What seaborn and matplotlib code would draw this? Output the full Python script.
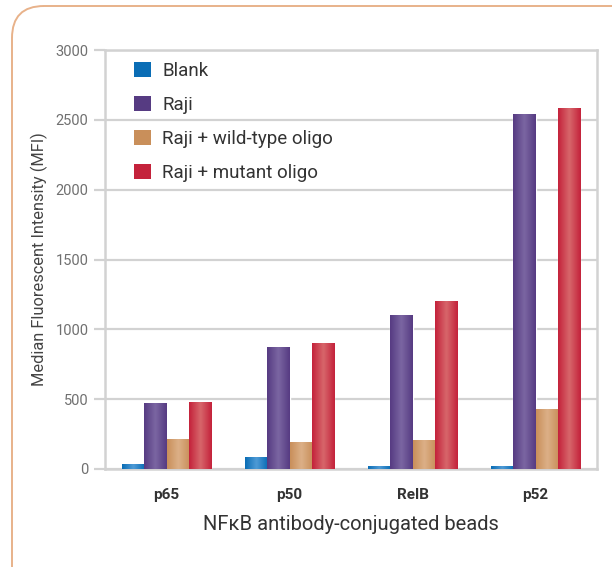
import numpy as np
import pandas as pd
import seaborn as sns
import matplotlib.pyplot as plt
from matplotlib.colors import LinearSegmentedColormap
from matplotlib.patches import FancyBboxPatch, Patch

# data
beads = ['p65', 'p50', 'RelB', 'p52']
samples = ['Blank', 'Raji', 'Raji + wild-type oligo', 'Raji + mutant oligo']
blank = [36, 86, 21, 21]
raji = [472, 873, 1102, 2541]
wild = [215, 193, 207, 429]
mutant = [480, 902, 1202, 2584]
yticks = [0, 500, 1000, 1500, 2000, 2500, 3000]

# dark edge / light highlight for the cylinder look
dark = ['#0a6db5', '#563b82', '#c98f5a', '#c4223b']
light = ['#4f9bd6', '#7b66a2', '#dcb088', '#d7676b']

df = pd.DataFrame({
    'bead': beads * 4,
    'sample': np.repeat(samples, 4),
    'mfi': blank + raji + wild + mutant,
})

sns.set_style('white')
plt.rcParams['font.family'] = ['Roboto', 'DejaVu Sans']

fig = plt.figure(figsize=(6.12, 5.67), dpi=100)
ax = fig.add_axes([105 / 612, 1 - 469 / 567, 492 / 612, 419 / 567])

# rounded panel frame
frame = FancyBboxPatch((12, -60), 680, 621, boxstyle='round,pad=0,rounding_size=32',
                       transform=None, fill=False, edgecolor='#e8b28a', linewidth=1.4)
fig.patches.append(frame)

sns.barplot(data=df, x='bead', y='mfi', hue='sample', order=beads, hue_order=samples,
            palette=dark, saturation=1, width=0.73, gap=0, ax=ax, legend=False, zorder=3)

# horizontal gradient on each bar
for i, cont in enumerate(ax.containers):
    cmap = LinearSegmentedColormap.from_list('g%d' % i, [dark[i], light[i], dark[i]])
    for p in cont.patches:
        x0, y0 = p.get_x(), p.get_y()
        w, h = p.get_width(), p.get_height()
        grad = np.linspace(0, 1, 64).reshape(1, -1)
        im = ax.imshow(grad, cmap=cmap, extent=(x0, x0 + w, y0, y0 + h),
                       aspect='auto', zorder=4, interpolation='bicubic')
        im.set_clip_path(p)

ax.set_xlim(-0.5, 3.5)
ax.set_ylim(0, 3000)
ax.set_yticks(yticks)
ax.grid(axis='y', color='#d2d2d2', linewidth=1.6, zorder=0)
ax.set_axisbelow(True)
for s in ax.spines.values():
    s.set_color('#d2d2d2')
    s.set_linewidth(1.8)

ax.set_xticks([0, 1, 2, 3])
ax.set_xticklabels(beads, fontsize=11, fontweight='bold', color='#333333')
ax.set_xticks([-0.5, 0.5, 1.5, 2.5, 3.5], minor=True)
ax.tick_params(axis='x', which='major', length=0, pad=14)
ax.tick_params(axis='x', which='minor', length=6, width=1.8, color='#d2d2d2', direction='out')
ax.tick_params(axis='y', length=8, width=1.6, color='#d2d2d2', labelsize=10.5,
               labelcolor='#707070', pad=4, left=True)

ax.set_xlabel('NFκB antibody-conjugated beads', fontsize=14.5, color='#333333', labelpad=9)
ax.set_ylabel('Median Fluorescent Intensity (MFI)', fontsize=11.8, color='#444444', labelpad=5)

handles = [Patch(facecolor=c, edgecolor='none') for c in dark]
ax.legend(handles, samples, loc='upper left', bbox_to_anchor=(0.044, 0.99), borderaxespad=0,
          frameon=False, fontsize=13.5, labelcolor='#333333', handlelength=0.9,
          handleheight=0.9, handletextpad=0.6, labelspacing=0.84)

fig.savefig('out.png', dpi=100)
